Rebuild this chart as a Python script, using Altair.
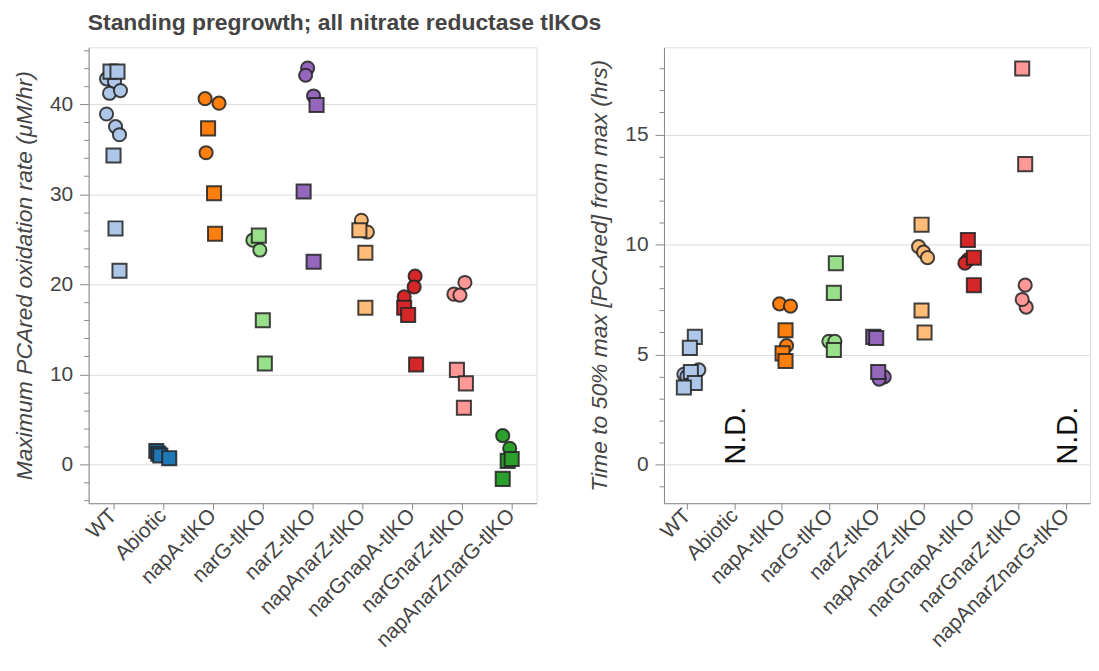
import altair as alt
import pandas as pd

# ---------------- data ----------------
categories = ["WT", "Abiotic", "napA-tlKO", "narG-tlKO", "narZ-tlKO",
              "napAnarZ-tlKO", "narGnapA-tlKO", "narGnarZ-tlKO", "napAnarZnarG-tlKO"]
palette = ["#aec7e8", "#1f77b4", "#ff7f0e", "#98df8a", "#9467bd",
           "#ffbb78", "#d62728", "#ff9896", "#2ca02c"]

# Left panel: maximum PCAred oxidation rate (uM/hr)
rate_group = (["WT"] * 12 + ["Abiotic"] * 4 + ["napA-tlKO"] * 6 + ["narG-tlKO"] * 5
              + ["narZ-tlKO"] * 6 + ["napAnarZ-tlKO"] * 5 + ["narGnapA-tlKO"] * 6
              + ["narGnarZ-tlKO"] * 6 + ["napAnarZnarG-tlKO"] * 5)
rate_shape = (["circle"] * 7 + ["square"] * 5
              + ["square"] * 4
              + ["circle"] * 3 + ["square"] * 3
              + ["circle"] * 2 + ["square"] * 3
              + ["circle"] * 3 + ["square"] * 3
              + ["circle"] * 2 + ["square"] * 3
              + ["circle"] * 3 + ["square"] * 3
              + ["circle"] * 3 + ["square"] * 3
              + ["circle"] * 2 + ["square"] * 3)
rate_value = [42.8, 42.5, 41.2, 41.5, 38.9, 37.5, 36.6, 43.6, 43.6, 34.3, 26.2, 21.5,
              1.5, 1.2, 1.0, 0.7,
              40.6, 40.1, 34.6, 37.3, 30.1, 25.6,
              24.9, 23.8, 25.4, 16.0, 11.2,
              44.0, 43.2, 40.9, 39.9, 30.3, 22.5,
              27.1, 25.8, 26.0, 23.5, 17.4,
              20.9, 19.7, 18.6, 17.4, 16.6, 11.1,
              20.2, 18.9, 18.8, 10.5, 9.0, 6.3,
              3.2, 1.8, 0.4, 0.6, -1.6]
# horizontal jitter, as a fraction of one category step
rate_jitter = [-0.14, 0.02, -0.08, 0.14, -0.14, 0.04, 0.12, -0.06, 0.08, 0.0, 0.04, 0.12,
               -0.14, -0.10, -0.06, 0.12,
               -0.16, 0.12, -0.14, -0.10, 0.02, 0.04,
               -0.20, -0.06, -0.08, 0.0, 0.04,
               -0.10, -0.14, 0.02, 0.08, -0.18, 0.02,
               -0.02, 0.10, -0.06, 0.06, 0.06,
               0.06, 0.04, -0.16, -0.16, -0.08, 0.08,
               0.06, -0.16, -0.04, -0.10, 0.08, 0.04,
               -0.18, -0.04, -0.08, 0.0, -0.18]

# Right panel: time to 50% max [PCAred] from max (hrs)
time_group = (["WT"] * 8 + ["napA-tlKO"] * 6 + ["narG-tlKO"] * 5 + ["narZ-tlKO"] * 5
              + ["napAnarZ-tlKO"] * 6 + ["narGnapA-tlKO"] * 5 + ["narGnarZ-tlKO"] * 5)
time_shape = (["circle"] * 3 + ["square"] * 5
              + ["circle"] * 3 + ["square"] * 3
              + ["circle"] * 2 + ["square"] * 3
              + ["circle"] * 2 + ["square"] * 3
              + ["circle"] * 3 + ["square"] * 3
              + ["circle"] * 2 + ["square"] * 3
              + ["circle"] * 3 + ["square"] * 2)
time_value = [4.3, 4.1, 4.0, 5.8, 5.3, 4.2, 3.7, 3.5,
              7.3, 7.2, 5.4, 6.1, 5.05, 4.7,
              5.6, 5.6, 9.15, 7.8, 5.2,
              3.98, 3.88, 5.8, 5.75, 4.2,
              9.9, 9.65, 9.4, 10.9, 7.0, 6.0,
              9.3, 9.15, 10.2, 9.4, 8.15,
              8.15, 7.15, 7.5, 18.0, 13.65]
time_jitter = [0.20, -0.10, -0.04, 0.12, 0.02, 0.04, 0.12, -0.10,
               -0.08, 0.14, 0.06, 0.04, -0.02, 0.04,
               -0.04, 0.08, 0.10, 0.06, 0.06,
               0.12, 0.02, -0.10, -0.04, 0.0,
               -0.14, -0.04, 0.04, -0.08, -0.08, -0.02,
               -0.10, -0.16, -0.10, 0.02, 0.02,
               0.10, 0.12, 0.04, 0.04, 0.10]

nd_group = ["Abiotic", "napAnarZnarG-tlKO"]
nd_label = ["N.D.", "N.D."]

rate_df = pd.DataFrame({"group": rate_group, "shape": rate_shape,
                        "value": rate_value, "jitter": rate_jitter})
time_df = pd.DataFrame({"group": time_group, "shape": time_shape,
                        "value": time_value, "jitter": time_jitter})
nd_df = pd.DataFrame({"group": nd_group, "label": nd_label,
                      "value": [0.0] * len(nd_group), "jitter": [0.0] * len(nd_group)})

FONT = "Liberation Sans"
TXT = "#444444"


def x_enc():
    return alt.X("group:N", sort=categories,
                 scale=alt.Scale(domain=categories, paddingInner=0, paddingOuter=0),
                 axis=alt.Axis(title=None, labelAngle=-45, labelAlign="right",
                               labelBaseline="middle", labelFontSize=21, labelPadding=3,
                               labelLimit=0, labelOverlap=False,
                               tickSize=6, labelColor=TXT, labelFont=FONT, grid=False))


def xoff_enc():
    return alt.XOffset("jitter:Q", scale=alt.Scale(domain=[-0.5, 0.5]))


def y_enc(title, domain, values, major):
    test = f"datum.value % {major} === 0"
    axis = alt.Axis(
        title=title, values=values,
        labelExpr=f"{test} ? datum.label : ''",
        labelOverlap=False,
        gridOpacity={"condition": {"test": test, "value": 1}, "value": 0},
        tickSize={"condition": {"test": test, "value": 9}, "value": 5},
        labelFontSize=21, labelColor=TXT, labelFont=FONT, labelPadding=7,
        titleFontSize=23, titleFontStyle="italic", titleFontWeight="normal",
        titleColor=TXT, titleFont=FONT, titlePadding=13,
    )
    return alt.Y("value:Q", scale=alt.Scale(domain=domain, nice=False, zero=False),
                 axis=axis)


def points(df, yenc):
    return alt.Chart(df).mark_point(
        filled=True, stroke="#222222", strokeWidth=2, strokeOpacity=0.85, opacity=1
    ).encode(
        x=x_enc(),
        xOffset=xoff_enc(),
        y=yenc,
        color=alt.Color("group:N", scale=alt.Scale(domain=categories, range=palette),
                        legend=None),
        shape=alt.Shape("shape:N", scale=alt.Scale(domain=["circle", "square"],
                                                   range=["circle", "square"]),
                        legend=None),
        size=alt.Size("shape:N", scale=alt.Scale(domain=["circle", "square"],
                                                 range=[175, 200]),
                      legend=None),
    )


left_y = y_enc("Maximum PCAred oxidation rate (\u03bcM/hr)",
               [-4.3, 46.3], list(range(-4, 47, 2)), 10)
left = points(rate_df, left_y).properties(width=450, height=458)

right_y = y_enc("Time to 50% max [PCAred] from max (hrs)",
                [-1.76, 18.96], list(range(-1, 19, 1)), 5)
right_pts = points(time_df, right_y)
nd_text = alt.Chart(nd_df).mark_text(
    angle=270, align="left", baseline="middle", fontSize=29, font=FONT, color="#111111"
).encode(
    x=x_enc(), xOffset=xoff_enc(), y=right_y, text="label:N"
)
right = alt.layer(right_pts, nd_text).properties(width=428, height=458)

chart = alt.hconcat(left, right, spacing=51).properties(
    padding={"left": 5, "top": 2, "right": 0, "bottom": 5},
    title=alt.TitleParams("Standing pregrowth; all nitrate reductase tlKOs",
                          anchor="start", dx=75, fontSize=23, fontWeight="bold",
                          color=TXT, font=FONT, offset=4)
).configure_view(
    stroke="#e3e3e3", strokeWidth=1.5
).configure_axis(
    domainColor="#333333", domainWidth=1.5, tickColor="#333333", tickWidth=1.5,
    gridColor="#e6e6e6", gridWidth=1.2
).configure(background="white")

chart.save("out.html", embed_options={"renderer": "svg", "actions": False})
